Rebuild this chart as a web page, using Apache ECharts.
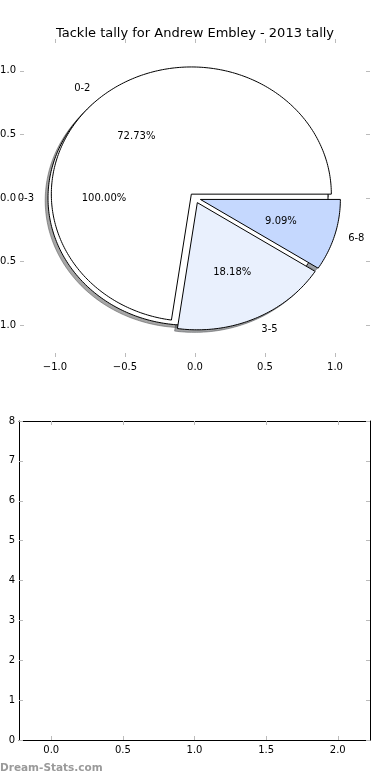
<!DOCTYPE html>
<html><head><meta charset="utf-8">
<script src="https://cdn.jsdelivr.net/npm/echarts@6/dist/echarts.min.js"></script>
<style>html,body{margin:0;padding:0;background:#fff}#c{width:390px;height:780px}</style>
</head><body><div id="c"></div>
<script>
// ---- data ----
const chartTitle = 'Tackle tally for Andrew Embley - 2013 tally';
const outerLabels = ['0-3'];
const outerValues = [11];
const innerLabels = ['0-2', '3-5', '6-8'];
const innerValues = [8, 2, 1];
const pieTickValues = [-1, -0.5, 0, 0.5, 1];
const lowerXTickValues = [0, 0.5, 1, 1.5, 2];
const lowerYTickValues = [0, 1, 2, 3, 4, 5, 6, 7, 8];
const lowerValues = [];
const watermarkText = 'Dream-Stats.com';

// ---- styles ----
const outerColors = ['#ffffff'];
const innerColors = ['#ffffff', '#e9f0fd', '#c5d8fe'];
const outerExplode = 0.05;
const innerExplode = 0.04;
const FONT = 'DejaVu Sans';

const wedges = [];
const texts = [];
function buildPie(values, labels, colors, explode) {
  const total = values.reduce((a, b) => a + b, 0);
  let t1 = 0;
  values.forEach((v, i) => {
    const frac = v / total;
    const t2 = t1 + 360 * frac;
    const tm = (t1 + t2) / 2 * Math.PI / 180;
    const cx = explode * Math.cos(tm), cy = explode * Math.sin(tm);
    wedges.push({ cx, cy, t1, t2, color: colors[i % colors.length] });
    const lx = cx + 1.1 * Math.cos(tm), ly = cy + 1.1 * Math.sin(tm);
    texts.push({ x: lx, y: ly, text: labels[i], align: lx > 0 ? 'left' : 'right' });
    texts.push({ x: cx + 0.6 * Math.cos(tm), y: cy + 0.6 * Math.sin(tm), text: (frac * 100).toFixed(2) + '%', align: 'center' });
    t1 = t2;
  });
}
buildPie(outerValues, outerLabels, outerColors, outerExplode);
buildPie(innerValues, innerLabels, innerColors, innerExplode);

function wedgePoints(api, w, dx, dy) {
  const pts = [];
  const span = w.t2 - w.t1;
  if (span < 359.999) pts.push(api.coord([w.cx + dx, w.cy + dy]));
  const n = Math.max(6, Math.ceil(span / 1));
  for (let k = 0; k <= n; k++) {
    const a = (w.t1 + span * k / n) * Math.PI / 180;
    pts.push(api.coord([w.cx + dx + Math.cos(a), w.cy + dy + Math.sin(a)]));
  }
  return pts;
}
function shadowColor(hex) {
  const r = parseInt(hex.slice(1, 3), 16), g = parseInt(hex.slice(3, 5), 16), b = parseInt(hex.slice(5, 7), 16);
  return 'rgba(' + Math.round(r * 0.3) + ',' + Math.round(g * 0.3) + ',' + Math.round(b * 0.3) + ',0.5)';
}
const numFmt = v => (v < 0 ? '\u2212' : '') + Math.abs(v).toFixed(1);
const tickStyle = { color: '#bbbbbb', width: 1 };

const chart = echarts.init(document.getElementById('c'), null, { renderer: 'canvas' });
chart.setOption({
  animation: false,
  backgroundColor: '#ffffff',
  textStyle: { fontFamily: FONT },
  title: {
    text: chartTitle, left: 'center', top: 22,
    textStyle: { fontFamily: FONT, fontSize: 13, fontWeight: 'normal', color: '#000' }
  },
  graphic: [{
    type: 'text', left: 0, top: 763,
    style: { text: watermarkText, fill: '#9a9a9a', font: 'bold 10.5px "DejaVu Sans"' }
  }],
  grid: [
    { left: 20, top: 39, width: 350, height: 318, outerBoundsMode: 'none', containLabel: false },
    { left: 19, top: 421, width: 351, height: 319, outerBoundsMode: 'none', containLabel: false }
  ],
  xAxis: [
    { gridIndex: 0, type: 'value', position: 'bottom', min: -1.25, max: 1.25,
      axisLine: { show: false, onZero: false }, splitLine: { show: false },
      axisTick: { inside: true, length: 4, lineStyle: tickStyle, customValues: pieTickValues },
      axisLabel: { customValues: pieTickValues, formatter: numFmt, margin: 5, color: '#000', fontSize: 10, fontFamily: FONT } },
    { gridIndex: 0, type: 'value', position: 'top', min: -1.25, max: 1.25,
      axisLine: { show: false, onZero: false }, splitLine: { show: false },
      axisTick: { inside: true, length: 4, lineStyle: tickStyle, customValues: pieTickValues },
      axisLabel: { show: false } },
    { gridIndex: 1, type: 'value', position: 'bottom', min: -0.225, max: 2.225,
      axisLine: { show: true, onZero: false, lineStyle: { color: '#000', width: 1 } }, splitLine: { show: false },
      axisTick: { inside: true, length: 4, lineStyle: tickStyle, customValues: lowerXTickValues },
      axisLabel: { customValues: lowerXTickValues, formatter: v => v.toFixed(1), margin: 5, color: '#000', fontSize: 10, fontFamily: FONT } },
    { gridIndex: 1, type: 'value', position: 'top', min: -0.225, max: 2.225,
      axisLine: { show: true, onZero: false, lineStyle: { color: '#000', width: 1 } }, splitLine: { show: false },
      axisTick: { inside: true, length: 4, lineStyle: tickStyle, customValues: lowerXTickValues },
      axisLabel: { show: false } }
  ],
  yAxis: [
    { gridIndex: 0, type: 'value', position: 'left', min: -1.25, max: 1.25,
      axisLine: { show: false, onZero: false }, splitLine: { show: false },
      axisTick: { inside: true, length: 4, lineStyle: tickStyle, customValues: pieTickValues },
      axisLabel: { customValues: pieTickValues, formatter: numFmt, margin: 4, color: '#000', fontSize: 10, fontFamily: FONT } },
    { gridIndex: 0, type: 'value', position: 'right', min: -1.25, max: 1.25,
      axisLine: { show: false, onZero: false }, splitLine: { show: false },
      axisTick: { inside: true, length: 4, lineStyle: tickStyle, customValues: pieTickValues },
      axisLabel: { show: false } },
    { gridIndex: 1, type: 'value', position: 'left', min: 0, max: 8,
      axisLine: { show: true, onZero: false, lineStyle: { color: '#000', width: 1 } }, splitLine: { show: false },
      axisTick: { inside: true, length: 4, lineStyle: tickStyle, customValues: lowerYTickValues },
      axisLabel: { customValues: lowerYTickValues, formatter: v => String(v), margin: 4, color: '#000', fontSize: 10, fontFamily: FONT } },
    { gridIndex: 1, type: 'value', position: 'right', min: 0, max: 8,
      axisLine: { show: true, onZero: false, lineStyle: { color: '#000', width: 1 } }, splitLine: { show: false },
      axisTick: { inside: true, length: 4, lineStyle: tickStyle, customValues: lowerYTickValues },
      axisLabel: { show: false } }
  ],
  series: [
    { type: 'custom', name: 'shadows', xAxisIndex: 0, yAxisIndex: 0, z: 1, silent: true,
      data: wedges.map(w => [w.cx, w.cy, w.t1, w.t2]), encode: { x: 0, y: 1 },
      renderItem: (params, api) => {
        const w = wedges[params.dataIndex];
        const c = shadowColor(w.color);
        return { type: 'polygon', shape: { points: wedgePoints(api, w, -0.02, -0.02) },
          style: { fill: c, stroke: c, lineWidth: 1 } };
      } },
    { type: 'custom', name: 'wedges', xAxisIndex: 0, yAxisIndex: 0, z: 2, silent: true,
      data: wedges.map(w => [w.cx, w.cy, w.t1, w.t2]), encode: { x: 0, y: 1 },
      renderItem: (params, api) => {
        const w = wedges[params.dataIndex];
        return { type: 'polygon', shape: { points: wedgePoints(api, w, 0, 0) },
          style: { fill: w.color, stroke: '#000', lineWidth: 1 } };
      } },
    { type: 'custom', name: 'labels', xAxisIndex: 0, yAxisIndex: 0, z: 3, silent: true,
      data: texts.map(t => [t.x, t.y]), encode: { x: 0, y: 1 },
      renderItem: (params, api) => {
        const t = texts[params.dataIndex];
        const p = api.coord([api.value(0), api.value(1)]);
        return { type: 'text', x: p[0], y: p[1],
          style: { text: t.text, align: t.align, verticalAlign: 'middle', fill: '#000', font: '10px "DejaVu Sans"' } };
      } },
    { type: 'bar', name: 'tally', xAxisIndex: 2, yAxisIndex: 2, data: lowerValues, barWidth: 20 }
  ]
});
</script>
</body></html>
